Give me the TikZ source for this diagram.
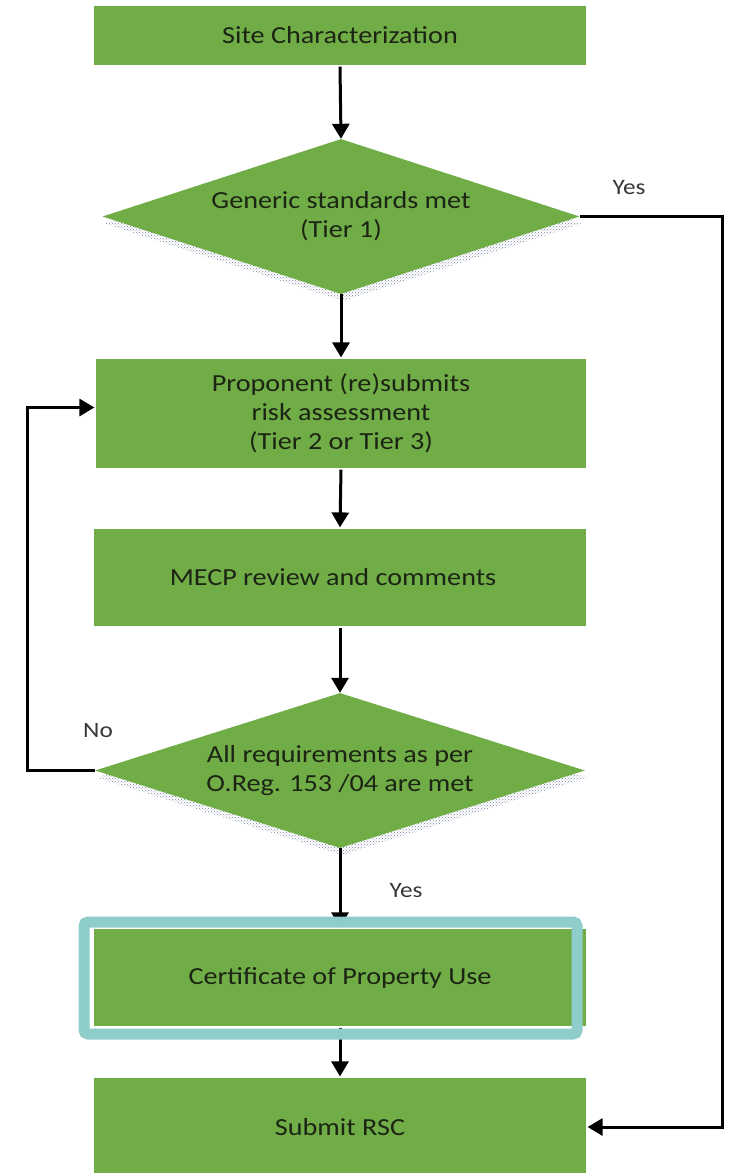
\documentclass[tikz,border=0pt]{standalone}
\usepackage{fontspec}
\setmainfont{Carlito}[FakeStretch=1.15]
\usetikzlibrary{shapes.geometric,arrows.meta,patterns}
\definecolor{boxgreen}{HTML}{70AD47}
\definecolor{frameteal}{HTML}{8ECDCA}
\definecolor{shadowdot}{HTML}{7A88A2}
\definecolor{inktext}{HTML}{1C2414}
\begin{document}
\begin{tikzpicture}[x=1pt,y=-1pt,
  every node/.style={font=\fontsize{24.5}{29}\selectfont, text=inktext},
  stepbox/.style={rectangle, fill=boxgreen, draw=white, line width=1.2pt,
    minimum width=494pt, inner sep=0pt, align=center},
  decision/.style={diamond, fill=boxgreen, inner sep=0pt, aspect=3.08,
    align=center,
    preaction={pattern=crosshatch dots, pattern color=shadowdot,
      transform canvas={shift={(2pt,-7pt)}}}},
  flow/.style={line width=3pt, -{Triangle[length=15pt,width=17pt]}},
  answer/.style={font=\fontsize{22}{26}\selectfont, text=black!78},
  highlight/.style={rectangle, draw=frameteal, line width=11pt,
    rounded corners=4pt, inner sep=0pt, minimum width=493pt, minimum height=112pt}
]
\useasboundingbox (0,0) rectangle (735,1173);
\clip (0,0) rectangle (735,1173);

% process steps and decisions
\node[stepbox, minimum height=61pt] (site) at (340,35.5) {Site Characterization};
\node[decision, minimum width=477pt, minimum height=155pt] (tier1) at (341,216.5)
  {Generic standards met\\(Tier 1)};
\node[stepbox, minimum width=492pt, minimum height=111pt] (risk) at (341,413.5)
  {Proponent (re)submits\\risk assessment\\(Tier 2 or Tier 3)};
\node[stepbox, minimum height=99pt] (review) at (340,577.5)
  {\hspace*{-14pt}MECP review and comments};
\node[decision, minimum width=490pt, minimum height=155pt] (req) at (340,770.5)
  {All requirements as per\\O.Reg. 153 /04 are met};
\node[stepbox, minimum height=99pt] (cpu) at (340,977.5) {Certificate of Property Use};
\node[stepbox, minimum height=100pt] (rsc) at (340,1127) {Submit RSC};

% corner points of the side routes
\coordinate (yescorner) at (722,216.5);
\coordinate (nocorner) at (27,770.5);

% connectors
\draw[flow] (site.south) -- (tier1.north);
\draw[flow] (tier1.south) -- (risk.north);
\draw[flow] (risk.south) -- (review.north);
\draw[flow] (review.south) -- (req.north);
\draw[flow] (req.south) -- (cpu.north);
\draw[flow] (cpu.south) -- (rsc.north);
\draw[flow] (tier1.east) -- (yescorner) |- (rsc.east);
\draw[flow] (req.west) -- (nocorner) |- ([yshift=6pt]risk.west);

% highlight frame around the certificate step
\node[highlight] (cpuframe) at (330.5,978) {};

% branch labels
\node[answer] (yes1) at (629,188) {Yes};
\node[answer] (no2) at (98,731) {No};
\node[answer] (yes2) at (406,891) {Yes};
\end{tikzpicture}
\end{document}
